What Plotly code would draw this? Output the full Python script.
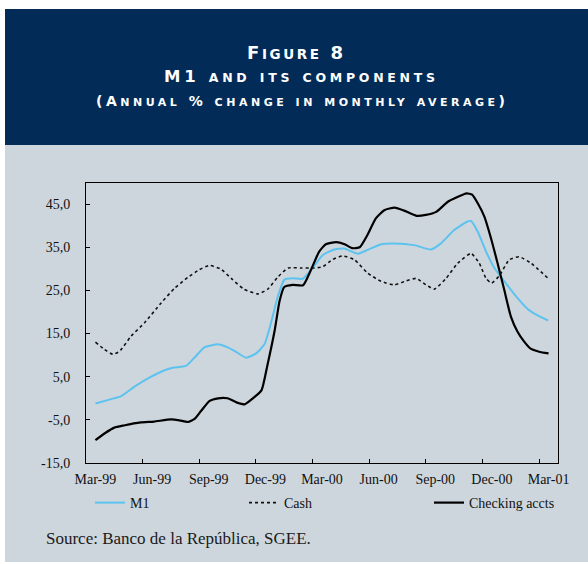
import plotly.graph_objects as go

# ---------------- data (month index: 0 = Mar-99 ... 24 = Mar-01) ----------------
tick_labels = ["Mar-99", "Jun-99", "Sep-99", "Dec-99", "Mar-00",
               "Jun-00", "Sep-00", "Dec-00", "Mar-01"]
tick_months = [0, 3, 6, 9, 12, 15, 18, 21, 24]

y_ticks = [-15, -5, 5, 15, 25, 35, 45]
y_tick_text = ["-15,0", "-5,0", "5,0", "15,0", "25,0", "35,0", "45,0"]

m1_t = [0, 0.83, 1.36, 2.07, 2.95, 3.66, 4.1, 4.8, 5.24, 5.77, 6.48, 7.0, 7.4,
        7.98, 8.51, 8.95, 9.3, 9.66, 10.01, 10.45, 10.98, 11.51, 12.04, 12.66,
        13.18, 13.89, 14.42, 15.13, 15.83, 16.89, 17.77, 18.3, 19.0, 19.63,
        19.89, 20.25, 20.69, 21.13, 21.66, 22.36, 22.89, 23.42, 23.98]
m1_v = [-1.2, -0.2, 0.5, 2.7, 5.0, 6.5, 7.1, 7.5, 9.4, 11.8, 12.5, 11.8, 10.9,
        9.4, 10.4, 12.5, 17.5, 23.6, 27.5, 27.8, 27.7, 30.2, 33.2, 34.5,
        34.7, 33.5, 34.4, 35.7, 35.9, 35.5, 34.5, 35.9, 39.0, 40.8,
        41.1, 38.6, 34.0, 30.2, 27.1, 23.2, 20.7, 19.2, 18.0]

cash_t = [0, 0.48, 0.92, 1.28, 1.89, 2.6, 3.48, 4.19, 4.89, 5.5, 6.04, 6.66,
          7.19, 7.86, 8.6, 9.13, 9.66, 10.2, 10.89, 11.6, 12.04, 12.57, 13.1,
          13.72, 14.42, 15.13, 15.83, 16.45, 16.98, 17.51, 17.95, 18.57, 19.19,
          19.89, 20.33, 20.69, 20.98, 21.39, 21.92, 22.45, 23.07, 23.98]
cash_v = [13.0, 11.3, 10.2, 10.9, 14.4, 17.5, 22.1, 25.5, 28.0, 29.8, 30.8, 29.9,
          27.8, 25.3, 24.2, 25.3, 28.1, 30.2, 30.2, 30.2, 30.5, 32.2, 33.0,
          32.1, 29.0, 27.1, 26.3, 27.2, 27.8, 26.3, 25.3, 27.8, 31.3,
          33.6, 31.3, 27.8, 26.7, 28.4, 32.1, 32.8, 31.3, 27.8]

chk_t = [0, 0.5, 1.0, 1.5, 2.4, 3.1, 4.0, 4.45, 4.9, 5.25, 5.6, 6.05, 6.5, 7.0,
         7.5, 7.9, 8.4, 8.8, 9.1, 9.5, 9.75, 10.0, 10.45, 11.0, 11.4, 11.85,
         12.2, 12.75, 13.2, 13.6, 14.0, 14.4, 14.85, 15.3, 15.85, 16.35, 17.0,
         17.5, 18.05, 18.65, 19.2, 19.65, 19.95, 20.25, 20.6, 20.95, 21.3,
         21.65, 22.0, 22.35, 22.7, 23.05, 23.5, 24.0]
chk_v = [-9.7, -8.1, -6.8, -6.3, -5.6, -5.4, -4.9, -5.1, -5.5, -4.8, -2.9, -0.6,
         0.0, 0.0, -1.0, -1.4, 0.2, 1.9, 7.5, 15.9, 22.5, 25.8, 26.3, 26.2,
         29.6, 34.0, 35.7, 36.2, 35.7, 34.8, 35.0, 37.8, 41.7, 43.6, 44.2,
         43.5, 42.3, 42.5, 43.2, 45.5, 46.7, 47.5, 47.2, 45.2, 42.1, 37.1,
         31.3, 25.2, 19.0, 15.5, 13.2, 11.5, 10.8, 10.4]

title_lines = ["Figure 8", "M1 and its components",
               "(Annual % change in monthly average)"]
source_text = "Source: Banco de la República, SGEE."

# ---------------- layout geometry ----------------
W, H = 588, 564
L, R, T, B = 86, 30, 183, 101
PW, PH = W - L - R, H - T - B
NAVY = "#022c57"
GRAY = "#ced6dd"
BLUE = "#5cc3ef"
SERIF = "Liberation Serif"


def px(x):
    return (x - L) / PW


def py(y):
    return (H - B - y) / PH


def small_caps(text, big, small, spacing):
    """Manual small caps: lowercase letters become smaller capitals."""
    out = []
    for ch in text:
        size = small if ch.islower() else big
        out.append('<span style="font-size:%.1fpx;letter-spacing:%.1fpx">%s</span>'
                   % (size, spacing, ch.upper()))
    return "".join(out)


fig = go.Figure()
fig.add_trace(go.Scatter(x=m1_t, y=m1_v, name="M1", mode="lines",
                         line=dict(color=BLUE, width=2, shape="spline", smoothing=0.5),
                         legend="legend"))
fig.add_trace(go.Scatter(x=cash_t, y=cash_v, name="Cash", mode="lines", xaxis="x2",
                         line=dict(color="#111111", width=1.6, dash="dot",
                                   shape="spline", smoothing=0.5),
                         legend="legend2"))
fig.add_trace(go.Scatter(x=chk_t, y=chk_v, name="Checking accts", mode="lines",
                         line=dict(color="#000000", width=2.2, shape="spline", smoothing=0.5),
                         legend="legend3"))

shapes = [
    dict(type="rect", xref="paper", yref="paper", x0=px(5), x1=px(600),
         y0=py(562), y1=py(145), fillcolor=GRAY, line=dict(width=0), layer="below"),
    dict(type="rect", xref="paper", yref="paper", x0=px(5), x1=px(600),
         y0=py(145), y1=py(9), fillcolor=NAVY, line=dict(width=0), layer="below"),
]

title_font = dict(family="DejaVu Sans", color="white", weight="bold")
annotations = [
    dict(text=small_caps(title_lines[0], 18, 13.5, 2.6), x=px(296), y=py(52),
         xref="paper", yref="paper", showarrow=False, xanchor="center", yanchor="middle",
         font=dict(size=18, **title_font)),
    dict(text=small_caps(title_lines[1], 16.5, 12.5, 3.7), x=px(301),
         y=py(76), xref="paper", yref="paper", showarrow=False, xanchor="center",
         yanchor="middle", font=dict(size=16, **title_font)),
    dict(text=small_caps(title_lines[2], 14, 11, 3.5),
         x=px(302), y=py(101), xref="paper", yref="paper", showarrow=False,
         xanchor="center", yanchor="middle", font=dict(size=13, **title_font)),
    dict(text=source_text, x=px(44), y=py(538),
         xref="paper", yref="paper", showarrow=False, xanchor="left", yanchor="middle",
         font=dict(family=SERIF, size=17, color="#1a1a1a")),
]

legend_common = dict(orientation="h", yanchor="middle", xanchor="left",
                     bgcolor="rgba(0,0,0,0)", font=dict(family=SERIF, size=14, color="#111"),
                     itemwidth=30, visible=True)

fig.update_layout(
    width=W, height=H,
    margin=dict(l=L, r=R, t=T, b=B, pad=0),
    paper_bgcolor="white", plot_bgcolor=GRAY,
    showlegend=True,
    shapes=shapes, annotations=annotations,
    legend=dict(x=px(90), y=py(503), **legend_common),
    legend2=dict(x=px(244), y=py(503), **legend_common),
    legend3=dict(x=px(429), y=py(503), **legend_common),
    xaxis=dict(range=[-0.5, 24.5], tickvals=[2.5 + 3 * i for i in range(8)],
               showticklabels=False, ticks="inside", ticklen=4, tickcolor="black",
               showline=True, linecolor="black", linewidth=1, mirror=True,
               showgrid=False, zeroline=False, fixedrange=True),
    xaxis2=dict(range=[-0.5, 24.5], overlaying="x", side="bottom", anchor="y",
                tickvals=tick_months, ticktext=tick_labels, ticks="",
                ticklabelstandoff=6,
                showline=False, showgrid=False, zeroline=False, fixedrange=True,
                tickfont=dict(family=SERIF, size=14, color="#111")),
    yaxis=dict(range=[-15, 49.9], tickvals=y_ticks, ticktext=y_tick_text,
               ticks="inside", ticklen=4, tickcolor="black",
               showline=True, linecolor="black", linewidth=1, mirror=True,
               showgrid=False, zeroline=False, fixedrange=True,
               ticklabelstandoff=12,
               tickfont=dict(family=SERIF, size=14, color="#111")),
)

fig.write_html("out.html", config={"displayModeBar": False},
               post_script="document.body.style.margin='0';")
